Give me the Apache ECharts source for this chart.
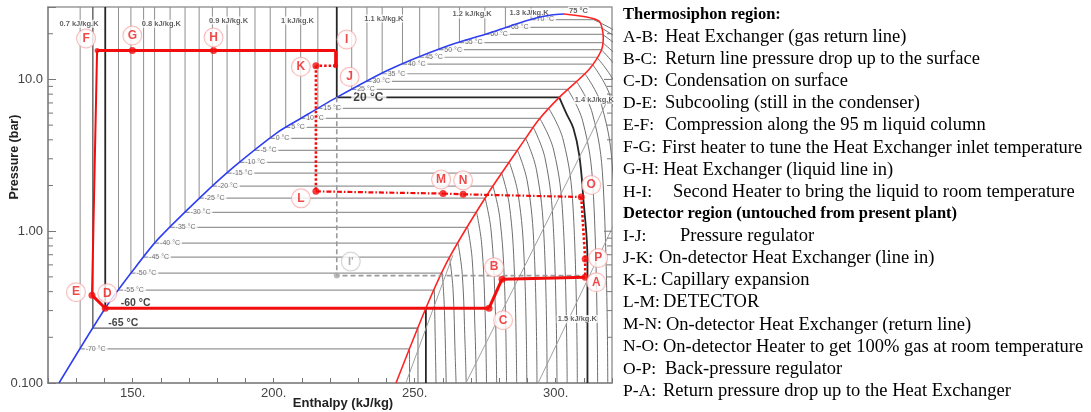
<!DOCTYPE html>
<html>
<head>
<meta charset="utf-8">
<title>C3F8 pressure-enthalpy diagram</title>
<script src="https://cdn.jsdelivr.net/npm/echarts@6.0.0/dist/echarts.min.js"></script>
<style>
html,body{margin:0;padding:0;background:#ffffff;}
#chart{width:1091px;height:412px;}
</style>
</head>
<body>
<div id="chart"></div>
<script>
// ---------------- values ----------------
// saturation table: temperature (°C), pressure (bar), liquid / vapour enthalpy (kJ/kg)
const satT  = [-70,-65,-60,-55,-50,-45,-40,-35,-30,-25,-20,-15,-10,-5,0,5,10,15,20,25,30,35,40,45,50,55,60,65,70];
const satP  = [0.168,0.230,0.311,0.409,0.530,0.675,0.834,1.06,1.33,1.65,1.98,2.41,2.84,3.41,4.09,4.83,5.53,6.44,7.62,8.59,9.70,10.9,12.6,14.0,15.7,17.5,19.8,22.0,24.8];
const satHL = [131.4,135.9,140.3,145.0,149.4,153.9,157.8,163.3,168.6,173.6,178.3,183.5,188.0,193.4,198.8,204.3,209.6,215.7,222.4,227.7,233.1,238.5,245.7,251.8,258.6,265.9,274.9,282.2,291.3];
const satHV = [248.2,251.2,254.0,257.0,259.8,262.4,265.4,268.8,272.0,275.0,277.8,280.9,283.6,286.5,289.4,292.1,294.4,297.6,301.3,304.3,307.4,310.4,313.0,314.6,316.2,316.6,316.6,315.9,313.3];
// superheated-vapour part of each isotherm (after the saturated vapour point), [h, p]
const vapCurves = [
  [[248.2,0.1]],
  [[251.2,0.1]],
  [[254.0,0.1]],
  [[257.6,0.1]],
  [[260.5,0.33],[261.2,0.1]],
  [[263.6,0.42],[264.4,0.15],[264.7,0.1]],
  [[266.9,0.52],[267.9,0.18],[268.3,0.1]],
  [[270.4,0.66],[271.4,0.23],[271.9,0.1]],
  [[273.8,0.82],[275.0,0.29],[275.5,0.1]],
  [[277.1,1.02],[278.5,0.36],[279.1,0.1]],
  [[280.2,1.23],[281.9,0.44],[282.6,0.1]],
  [[283.6,1.49],[285.4,0.53],[286.2,0.1]],
  [[286.7,1.76],[288.9,0.62],[289.8,0.1]],
  [[290.0,2.11],[292.4,0.75],[293.4,0.1]],
  [[293.2,2.54],[295.9,0.90],[297.0,0.1]],
  [[296.3,3.00],[299.2,1.06],[300.5,0.1]],
  [[299.3,3.43],[302.6,1.22],[304.1,0.1]],
  [[302.7,3.99],[306.2,1.42],[307.7,0.1]],
  [[303.8,5.98],[306.3,4.76],[308.4,3.16],[309.8,1.67],[311.3,0.64],[311.3,0.1]],
  [[309.6,5.33],[313.3,1.89],[314.9,0.1]],
  [[313.0,6.01],[316.8,2.13],[318.5,0.1]],
  [[316.3,6.76],[320.3,2.40],[322.1,0.1]],
  [[319.3,7.81],[323.7,2.77],[325.6,0.1]],
  [[321.9,8.68],[326.9,3.08],[329.2,0.1]],
  [[324.5,9.73],[330.3,3.45],[332.8,0.1]],
  [[326.5,10.9],[333.4,3.85],[336.4,0.1]],
  [[328.3,12.3],[336.5,4.36],[340.0,0.1]],
  [[329.7,13.6],[339.4,4.84],[343.5,0.1]],
  [[330.2,15.4],[342.0,5.46],[347.1,0.1]]
];
const boldT = [-60, 20];
const darkT = [-65];

// saturation dome
const liqLineH = [123.9,140.3,150.2,158.7,174.0,185.8,201.4,209.6,222.4,240.5,260.4,277.1,284.2,292.4,298.5,303.0];
const liqLineP = [0.100,0.311,0.553,0.873,1.67,2.64,4.48,5.53,7.62,11.5,16.3,20.4,22.6,25.2,26.6,27.0];
const vapLineH = [243.4,254.0,262.2,276.1,289.6,293.8,301.3,311.6,316.2,316.9,315.2,303.0];
const vapLineP = [0.100,0.311,0.664,1.78,4.15,5.37,7.62,11.5,15.5,18.9,24.4,27.0];

// isentropes in the vapour region
const isentropes = [
  [[246.9,0.1],[263.6,0.695]],
  [[268.2,0.1],[312.7,4.42],[318.4,7.28]],
  [[293.8,0.1],[320.5,1.09]]
];

// cycle A..P
const cycleNames = ['A','B','C','D','E','F','G','H','I','J','K','L','M','N','O','P'];
const cycleH = [310.5,281.0,276.4,140.3,135.6,137.4,149.9,178.7,222.0,222.0,215.0,215.0,260.1,267.2,309.1,310.5];
const cycleP = [0.497,0.483,0.311,0.311,0.379,15.5,15.5,15.5,15.5,12.3,12.3,1.83,1.77,1.75,1.68,0.655];
// reference path I -> I' -> A (grey dashed)
const refNames = ['', "I'", ''];
const refH = [222.4,222.4,310.5];
const refP = [7.62,0.51,0.51];

// small annotations on the diagram
const annotText = ['0.7 kJ/kg.K','0.8 kJ/kg.K','0.9 kJ/kg.K','1 kJ/kg.K','1.1 kJ/kg.K','1.2 kJ/kg.K','1.3 kJ/kg.K','75 °C','1.4 kJ/kg.K','1.5 kJ/kg.K'];
const annotH = [131.0,160.2,184.0,208.5,239.1,270.4,290.6,308.1,313.7,307.7];
const annotP = [23.3,23.3,24.4,24.4,25.2,26.8,27.6,28.4,7.28,0.264];

// axes
const xMin = 120, xMax = 320, xStep = 10;
const xLabelled = [150,200,250,300];
const yMin = 0.1, yMax = 30;
const yLabels = ['0.100','1.00','10.0'];
const yLabelValues = [0.1,1,10];
const yMinorTicks = [0.2,0.3,0.4,0.5,0.6,0.7,0.8,0.9,2,3,4,5,6,7,8,9,20];
const yMajorTicksRight = [1,10];

// legend text on the right
const legendCodes = ['', 'A-B:', 'B-C:', 'C-D:', 'D-E:', 'E-F:', 'F-G:', 'G-H:', 'H-I:', '', 'I-J:', 'J-K:', 'K-L:', 'L-M:', 'M-N:', 'N-O:', 'O-P:', 'P-A:'];
const legendTexts = ['Thermosiphon region:', 'Heat Exchanger (gas return line)', 'Return line pressure drop up to the surface', 'Condensation on surface', 'Subcooling (still in the condenser)', 'Compression along the 95 m liquid column', 'First heater to tune the Heat Exchanger inlet temperature', 'Heat Exchanger (liquid line in)', 'Second Heater to bring the liquid to room temperature', 'Detector region (untouched from present plant)', 'Pressure regulator', 'On-detector Heat Exchanger (line in)', 'Capillary expansion', 'DETECTOR', 'On-detector Heat Exchanger (return line)', 'On-detector Heater to get 100% gas at room temperature', 'Back-pressure regulator', 'Return pressure drop up to the Heat Exchanger'];

// ---------------- styling / layout ----------------
const RED = '#f20d0d';
const segKinds = ['solid','solid','solid','solid','thin','solid','solid','solid','solid','dot','dot','dashdot','dashdot','dashdot','dot','dot'];
const segStyles = {
  solid:   {width: 3,   type: 'solid'},
  thin:    {width: 2,   type: 'solid'},
  dot:     {width: 2.6, type: [2.5, 2]},
  dashdot: {width: 2.2, type: [5, 2, 1.5, 2]}
};
const labelOffset = {A:[11,5],B:[-8,-12],C:[14,12],D:[2,-15],E:[-16,-3],F:[-11,-12],G:[0,-15],H:[0,-13],I:[11,-11],J:[14,11],K:[-15,1],L:[-15,7],M:[-2,-14],N:[0,-14],O:[10,-12],P:[13,-1]};
const dotSize = {I:0, J:5, F:5};
const legendDescX = {'F-G:':662,'G-H:':663,'H-I:':673,'I-J:':680,'J-K:':659,'K-L:':661,'L-M:':663,'M-N:':666,'N-O:':663,'P-A:':663};

const chart = echarts.init(document.getElementById('chart'), null, {renderer:'canvas'});
const series = [];

// isotherms: liquid (vertical), two-phase (horizontal), vapour (curved)
satT.forEach((t, i) => {
  const bold = boldT.includes(t), dark = darkT.includes(t);
  const w = bold ? 1.8 : (dark ? 1.4 : 1);
  const liqCol = bold ? '#262626' : (dark ? '#5e5e5e' : '#8e8e8e');
  const twoCol = bold ? '#262626' : (dark ? '#5e5e5e' : '#969696');
  series.push({
    type:'line', silent:true, symbol:'none', z:1, animation:false,
    lineStyle:{color:liqCol, width:w},
    data:[[satHL[i], yMax],[satHL[i], satP[i]]]
  });
  series.push({
    type:'line', silent:true, symbol:'none', z:1, animation:false,
    lineStyle:{color:twoCol, width: bold ? 1.8 : (dark ? 1.4 : 1.2)},
    data:[[satHL[i], satP[i]],[satHV[i], satP[i]]]
  });
  series.push({
    type:'line', silent:true, symbol:'none', z:1, smooth:0.4, animation:false,
    lineStyle:{color: bold ? '#262626' : '#6e6e6e', width: bold ? 1.8 : 1},
    data:[[satHV[i], satP[i]]].concat(vapCurves[i])
  });
});

// isentropes
isentropes.forEach(pts => series.push({
  type:'line', silent:true, symbol:'none', z:1, animation:false,
  lineStyle:{color:'#a0a0a0', width:1}, data:pts
}));

// isotherm labels
series.push({
  type:'scatter', silent:true, z:2, animation:false, symbolSize:1,
  itemStyle:{color:'rgba(0,0,0,0)'},
  label:{show:true, position:'right', distance:4, formatter:'{b}', fontSize:7,
         fontFamily:'Liberation Sans', color:'#4a4a4a', backgroundColor:'#fff', padding:[0,2,0,1]},
  data: satT.map((t, i) => {
    const item = {name: t + ' °C', value:[satHL[i], satP[i]]};
    if (t === -60 || t === -65) item.label = {fontSize:10.5, fontWeight:'bold', color:'#111', backgroundColor:'transparent', offset:[10,-5]};
    if (t === 20) item.label = {fontSize:12, fontWeight:'bold', color:'#111', offset:[10,0], padding:[0,3,0,2]};
    return item;
  })
});

// small annotations
series.push({
  type:'scatter', silent:true, z:2, animation:false, symbolSize:1,
  itemStyle:{color:'rgba(0,0,0,0)'},
  label:{show:true, position:'inside', formatter:'{b}', fontSize:7.5, fontWeight:'bold',
         fontFamily:'Liberation Sans', color:'#3a3a3a', backgroundColor:'#fff', padding:[0,1]},
  data: annotText.map((s, i) => ({name:s, value:[annotH[i], annotP[i]]}))
});

// saturation dome
series.push({type:'line', silent:true, symbol:'none', z:3, smooth:0.25, animation:false,
  lineStyle:{color:'#2f3ff0', width:1.6}, data: liqLineH.map((h,i)=>[h, liqLineP[i]])});
series.push({type:'line', silent:true, symbol:'none', z:3, smooth:0.25, animation:false,
  lineStyle:{color:'#ff2424', width:1.6}, data: vapLineH.map((h,i)=>[h, vapLineP[i]])});

// grey reference path I - I' - A
series.push({type:'line', silent:true, symbol:'none', z:4, animation:false,
  lineStyle:{color:'#9a9a9a', width:1.6, type:[5,3]}, data: refH.map((h,i)=>[h, refP[i]])});
series.push({type:'scatter', silent:true, z:6, animation:false, symbolSize:6,
  itemStyle:{color:'#aaaaaa'},
  label:{show:true, position:'inside', formatter:'{b}', color:'#999', fontWeight:'bold', fontSize:11,
         fontFamily:'Liberation Sans', backgroundColor:'#fff', borderColor:'#c8c8c8', borderWidth:1,
         borderRadius:9, width:18, height:18, lineHeight:18, align:'center', offset:[14,-14]},
  data:[{name:refNames[1], value:[refH[1], refP[1]]}]});

// cycle segments
cycleNames.forEach((n, i) => {
  const j = (i + 1) % cycleNames.length;
  const st = segStyles[segKinds[i]];
  series.push({type:'line', silent:true, symbol:'none', z:5, animation:false,
    lineStyle:{color:RED, width:st.width, type:st.type, cap:'butt'},
    data:[[cycleH[i], cycleP[i]],[cycleH[j], cycleP[j]]]});
});

// cycle points + letter labels
series.push({
  type:'scatter', silent:true, z:7, animation:false,
  itemStyle:{color:RED},
  label:{show:true, position:'inside', formatter:'{b}', color:'#ee1c1c', fontWeight:'bold', fontSize:12,
         fontFamily:'Liberation Sans', backgroundColor:'#fff', borderColor:'#f6a9a9', borderWidth:1,
         borderRadius:9, width:18, height:18, lineHeight:18, align:'center'},
  data: cycleNames.map((n, i) => ({
    name:n, value:[cycleH[i], cycleP[i]],
    symbolSize: (n in dotSize) ? dotSize[n] : 7,
    label:{offset:labelOffset[n]}
  }))
});

// minor / mirrored ticks on log axis
function tickRender(len) {
  return function(params, api) {
    const v = api.value(1);
    const pL = api.coord([xMin, v]);
    const pR = api.coord([xMax, v]);
    return {type:'group', children:[
      {type:'line', shape:{x1:pL[0], y1:pL[1], x2:pL[0] + len, y2:pL[1]}, style:{stroke:'#777', lineWidth:1}},
      {type:'line', shape:{x1:pR[0], y1:pR[1], x2:pR[0] - len, y2:pR[1]}, style:{stroke:'#777', lineWidth:1}}
    ]};
  };
}
series.push({type:'custom', silent:true, z:8, animation:false, encode:{x:0, y:1},
  renderItem: tickRender(5), data: yMinorTicks.map(v => [xMin, v])});
series.push({type:'custom', silent:true, z:8, animation:false, encode:{x:0, y:1},
  renderItem: function(params, api) {
    const v = api.value(1);
    const pR = api.coord([xMax, v]);
    return {type:'line', shape:{x1:pR[0], y1:pR[1], x2:pR[0] - 8, y2:pR[1]}, style:{stroke:'#777', lineWidth:1}};
  }, data: yMajorTicksRight.map(v => [xMax, v])});

// legend text
const graphics = [];
legendTexts.forEach((txt, i) => {
  const y = 15 + i * 22.12;
  const code = legendCodes[i];
  if (code === '') {
    graphics.push({type:'text', x:623, y:y, silent:true,
      style:{text:txt, fontFamily:'Liberation Serif', fontWeight:'bold', fontSize:16.5, fill:'#000', verticalAlign:'middle'}});
  } else {
    graphics.push({type:'text', x:623, y:y, silent:true,
      style:{text:code, fontFamily:'Liberation Serif', fontSize:17.5, fill:'#000', verticalAlign:'middle'}});
    graphics.push({type:'text', x:(legendDescX[code] || 665), y:y, silent:true,
      style:{text:txt, fontFamily:'Liberation Serif', fontSize:18.5, fill:'#000', verticalAlign:'middle'}});
  }
});
// axis titles
graphics.push({type:'text', x:343, y:403, silent:true,
  style:{text:'Enthalpy (kJ/kg)', fontFamily:'Liberation Sans', fontWeight:'bold', fontSize:13, fill:'#222', align:'center', verticalAlign:'middle'}});
graphics.push({type:'text', x:15, y:157, rotation:Math.PI/2, silent:true,
  style:{text:'Pressure (bar)', fontFamily:'Liberation Sans', fontWeight:'bold', fontSize:12.5, fill:'#222', align:'center', verticalAlign:'middle'}});

chart.setOption({
  animation:false,
  backgroundColor:'#ffffff',
  grid:{left:48, right:479, top:7, bottom:29, show:true, borderColor:'#9a9a9a', borderWidth:1.5, backgroundColor:'transparent'},
  xAxis:{
    type:'value', min:xMin, max:xMax, interval:xStep,
    axisLine:{show:true, lineStyle:{color:'#8a8a8a', width:1.5}},
    axisTick:{show:true, inside:true, length:5, lineStyle:{color:'#777'}},
    splitLine:{show:false},
    axisLabel:{fontFamily:'Liberation Sans', fontSize:13, color:'#444', margin:4,
      formatter: v => xLabelled.includes(Math.round(v)) ? Math.round(v) + '.' : ''}
  },
  yAxis:{
    type:'log', logBase:10, min:yMin, max:yMax,
    axisLine:{show:true, lineStyle:{color:'#8a8a8a', width:1.5}},
    axisTick:{show:true, inside:true, length:8, lineStyle:{color:'#777'}},
    minorTick:{show:false},
    splitLine:{show:false},
    axisLabel:{fontFamily:'Liberation Sans', fontSize:13, color:'#444', margin:5,
      formatter: v => {
        for (let k = 0; k < yLabelValues.length; k++) {
          if (Math.abs(Math.log10(v) - Math.log10(yLabelValues[k])) < 1e-6) return yLabels[k];
        }
        return '';
      }}
  },
  graphic: graphics,
  series: series
});
</script>
</body>
</html>
